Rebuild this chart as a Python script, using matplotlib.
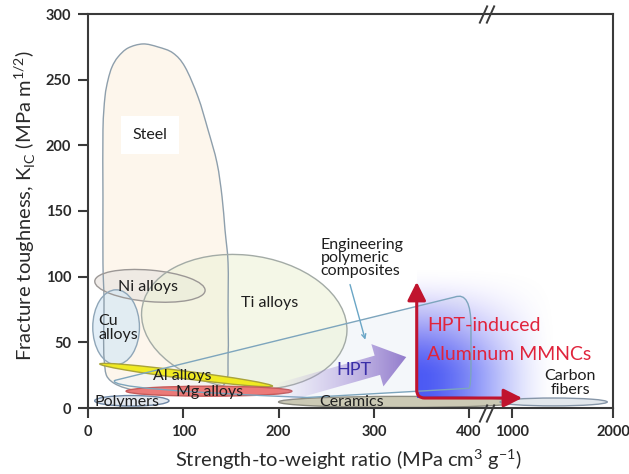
import numpy as np
import matplotlib
matplotlib.use("Agg")
import matplotlib.pyplot as plt
from matplotlib.patches import Ellipse, PathPatch, FancyArrowPatch, Polygon
from matplotlib.path import Path
from matplotlib.transforms import IdentityTransform

plt.rcParams['font.family'] = ['Lato', 'DejaVu Sans']

# ---- broken strength axis: linear 0-400, compressed gap, then 1000-2000 ----
AXIS_DATA = [-400, 0, 400, 1000, 2000, 3000]
AXIS_POS = [-400, 0, 400, 445, 551, 657]


def forward(x):
    return np.interp(x, AXIS_DATA, AXIS_POS)


def inverse(u):
    return np.interp(u, AXIS_POS, AXIS_DATA)


x_ticks = [0, 100, 200, 300, 400, 1000, 2000]
y_ticks = [0, 50, 100, 150, 200, 250, 300]
x_break = [600, 690]

# ---- elliptical material regions (strength range, toughness centre/height) ----
region_names = ["Ni alloys", "Cu alloys", "Ti alloys", "Ceramics", "Carbon fibers",
                "Polymers", "Al alloys", "Mg alloys"]
region_x_lo = [7, 5, 56, 200, 833, 7, 12, 40]
region_x_hi = [123, 54, 272, 1094, 1943, 85, 194, 214]
region_y_mid = [93, 61.5, 65.5, 4.6, 4.6, 5.5, 25.1, 12.8]
region_height = [24, 57, 102, 8.5, 6, 8, 5.8, 7.6]
region_tilt = [-3.5, 0, -4, 0, 0, 0, -5.3, 0]
region_face = ["#ebe6e2", "#d6e8f5", "#edf2d8", "#cbc9b4", "#e2e7ec",
               "#e4e9f0", "#f0ea22", "#ec7a78"]
region_edge = ["#9c9896", "#8fa6b8", "#a3aba6", "#8c8c80", "#8696a8",
               "#6f88a6", "#a9a33a", "#c45a5a"]
region_alpha = [0.75, 0.7, 0.6, 1, 1, 1, 1, 1]

# steel envelope outline (strength, toughness)
steel_x = [16.8, 15.7, 15.7, 15.7, 17.8, 21, 25.2, 31.5, 42, 57.7, 73.5, 89.2,
           101.8, 115.5, 126, 135.4, 140.7, 143.8, 147, 147, 147, 143, 110, 60, 25, 17]
steel_y = [82, 110.4, 160.7, 211.7, 236.8, 249.8, 259.7, 267.3, 274.1, 277.2, 274.9,
           270.3, 259.7, 236.8, 211.7, 186.6, 160.7, 135.5, 110.4, 74.6, 40, 18, 11,
           12, 20, 36.5]

# engineering polymeric composites envelope
comp_x = [28, 385, 426, 426, 426, 426, 400, 230, 18]
comp_y = [21, 84.5, 89, 62, 32, 17, 15, 8, 14]

# region labels
label_text = ["Steel", "Ni alloys", "Ti alloys", "Cu\nalloys", "Al alloys", "Mg alloys",
              "Polymers", "Ceramics", "Carbon\nfibers"]
label_x = [65, 63, 191, 10.5, 99, 128, 41, 277, 1575]
label_y = [208, 92, 80, 61, 24, 12, 4.5, 4.5, 19]
label_ha = ["center", "center", "center", "left", "center", "center", "center",
            "center", "center"]

# HPT route and MMNC corner arrow
hpt_tail = (175, 6)
hpt_tip = (334, 38.8)
mmnc_corner_x = 345
mmnc_top_y = 96
mmnc_right_x = 1100
mmnc_base_y = 7.6

fig = plt.figure(figsize=(6.29, 4.74), dpi=100)
ax = fig.add_axes([88 / 629, 1 - 408 / 474, 525 / 629, 394 / 474])
ax.set_xscale("function", functions=(forward, inverse))
ax.set_xlim(0, 2000)
ax.set_ylim(0, 300)
ax.set_autoscale_on(False)

# coordinates in the axis' scaled (position) space
trans_u = ax.transLimits + ax.transAxes


def closed_spline_path(xs, ys):
    pts = np.column_stack([xs, ys]).astype(float)
    n = len(pts)
    verts = [pts[0]]
    codes = [Path.MOVETO]
    for i in range(n):
        p0, p1, p2, p3 = pts[i - 1], pts[i], pts[(i + 1) % n], pts[(i + 2) % n]
        c1 = p1 + (p2 - p0) / 6.0
        c2 = p2 - (p3 - p1) / 6.0
        verts += [c1, c2, p2]
        codes += [Path.CURVE4] * 3
    return Path(np.array(verts), codes)


# steel envelope
steel_path = closed_spline_path(forward(np.array(steel_x)), steel_y)
ax.add_patch(PathPatch(steel_path, transform=trans_u, facecolor="#fdf5ea",
                       edgecolor="none", alpha=0.9, zorder=1.0))
ax.add_patch(PathPatch(steel_path, transform=trans_u, facecolor="none",
                       edgecolor="#8e9fac", lw=1.0, zorder=1.6))

# composites envelope (straight upper edge, rounded corners)
cu_ = forward(np.array(comp_x))
comp_codes = [Path.MOVETO, Path.LINETO, Path.CURVE3, Path.CURVE3, Path.LINETO,
              Path.CURVE3, Path.CURVE3, Path.LINETO, Path.CURVE3, Path.CURVE3]
comp_verts = list(zip(cu_, comp_y))
comp_path = Path(np.array(comp_verts + [comp_verts[0]]), comp_codes)
ax.add_patch(PathPatch(comp_path, transform=trans_u, facecolor="#eef3f7",
                       edgecolor="none", alpha=0.6, zorder=1.2))
ax.add_patch(PathPatch(comp_path, transform=trans_u, facecolor="none",
                       edgecolor="#7da5bd", lw=1.0, zorder=2.6))

# ellipse regions
for i, name in enumerate(region_names):
    u0, u1 = forward(region_x_lo[i]), forward(region_x_hi[i])
    centre = ((u0 + u1) / 2, region_y_mid[i])
    w = u1 - u0
    pale = region_alpha[i] < 1
    z_fill = 1.1 + 0.05 * i if pale else 2.0 + 0.05 * i
    ax.add_patch(Ellipse(centre, w, region_height[i], angle=region_tilt[i],
                         transform=trans_u, facecolor=region_face[i],
                         edgecolor="none", alpha=region_alpha[i], zorder=z_fill))
    ax.add_patch(Ellipse(centre, w, region_height[i], angle=region_tilt[i],
                         transform=trans_u, facecolor="none",
                         edgecolor=region_edge[i], lw=1.0,
                         zorder=1.6 if pale else z_fill + 0.01))

# blue glow of the MMNC region
u_lo, u_hi = forward(mmnc_corner_x), forward(mmnc_corner_x) + 150
y_lo, y_hi = mmnc_base_y, 110
gx = np.linspace(0, 1, 200)
gyv = np.linspace(y_lo, y_hi, 200)
gu, gy = np.meshgrid(gx, (gyv - 25) / (108 - 25))


def fall(t):
    t = np.clip(t, 0, 1)
    return 1 - t * t * (3 - 2 * t)


glow = np.zeros((200, 200, 4))
glow[..., 0] = 0.26 + 0.25 * np.clip(gy, 0, 1)
glow[..., 1] = 0.32 + 0.12 * np.clip(gy, 0, 1)
glow[..., 2] = 0.96
glow[..., 3] = 0.95 * fall(gu) * fall(gy)
ax.imshow(glow, extent=[u_lo, u_hi, y_lo, y_hi], origin="lower", aspect="auto",
          transform=trans_u, interpolation="bilinear", zorder=2.5)

# HPT gradient arrow (built in pixel space so the head keeps its shape)
tail_px = ax.transData.transform(hpt_tail)
tip_px = ax.transData.transform(hpt_tip)
d = (tip_px - tail_px) / np.linalg.norm(tip_px - tail_px)
nrm = np.array([-d[1], d[0]])
neck = tip_px - d * 30
arrow_pts = [tail_px + nrm * 10, neck + nrm * 10, neck + nrm * 22, tip_px,
             neck - nrm * 22, neck - nrm * 10, tail_px - nrm * 10]
arrow_shape = Polygon(arrow_pts, closed=True, transform=IdentityTransform())
grad = np.zeros((10, 200, 4))
ramp = np.linspace(0, 1, 200)
grad[..., 0] = 0.75 - 0.22 * ramp
grad[..., 1] = 0.68 - 0.25 * ramp
grad[..., 2] = 0.92 - 0.14 * ramp
grad[..., 3] = 0.92 * np.clip((ramp - 0.12) / 0.88, 0, 1)
img = ax.imshow(grad, extent=[forward(hpt_tail[0]), forward(hpt_tip[0]) + 2, 0, 50],
                origin="lower", aspect="auto", transform=trans_u,
                interpolation="bilinear", zorder=2.7)
img.set_clip_path(arrow_shape)

# red L-shaped arrow
ax.add_patch(FancyArrowPatch((mmnc_corner_x, mmnc_top_y), (mmnc_right_x, mmnc_base_y),
                             arrowstyle="<|-|>,head_length=0.7,head_width=0.35",
                             mutation_scale=16,
                             connectionstyle="angle,angleA=90,angleB=0,rad=8",
                             shrinkA=0, shrinkB=0, lw=2.2, color="#c0142e",
                             zorder=3))

# labels
for t, x, y, ha in zip(label_text, label_x, label_y, label_ha):
    kw = {}
    if t == "Steel":
        kw["bbox"] = dict(boxstyle="square,pad=0.75", fc="white", ec="none")
    ax.text(x, y, t, ha=ha, va="center", fontsize=11.5, color="#1e1e1e",
            linespacing=0.95, zorder=4, **kw)

ax.text(244, 114, "Engineering\npolymeric\ncomposites", ha="left", va="center",
        fontsize=11.5, color="#1e1e1e", linespacing=0.92, zorder=4)
ax.annotate("", xy=(291, 52), xytext=(275, 94),
            arrowprops=dict(arrowstyle="->,head_length=0.3,head_width=0.15",
                            color="#6aa6c6", lw=1.0, shrinkA=0, shrinkB=0),
            zorder=4)
ax.text(279, 29, "HPT", ha="center", va="center", fontsize=13,
        color="#3a2fa8", zorder=4)
ax.text(356, 63, "HPT-induced", ha="left", va="center", fontsize=14,
        color="#e0243c", zorder=4)
ax.text(356, 41, "Aluminum MMNCs", ha="left", va="center", fontsize=14,
        color="#e0243c", zorder=4)

# axes styling
for s in ax.spines.values():
    s.set_linewidth(1.5)
    s.set_color("#3a3a3a")
    s.set_zorder(5)
ax.set_xticks(x_ticks)
ax.set_xticklabels([str(v) for v in x_ticks])
ax.set_yticks(y_ticks)
ax.set_yticklabels([str(v) for v in y_ticks])
ax.minorticks_off()
ax.tick_params(direction="out", length=7, width=1.5, color="#3a3a3a",
               labelsize=10.5, labelcolor="#2a2a2a", pad=5)
for lab in ax.get_xticklabels() + ax.get_yticklabels():
    lab.set_fontweight("bold")

# axis-break marks
slash = [(-0.45, -1), (0.45, 1)]
for xb in x_break:
    ax.plot([xb], [300], marker=slash, markersize=13, mfc="none", mec="#3a3a3a",
            mew=1.4, clip_on=False, zorder=6)
    ax.plot([xb], [-4], marker=slash, markersize=13, mfc="none", mec="#3a3a3a",
            mew=1.4, clip_on=False, zorder=6)

fig.text(348 / 629, 1 - 460 / 474,
         "Strength-to-weight ratio (MPa cm$^\\mathregular{3}$ g$^\\mathregular{-1}$)",
         ha="center", va="center", fontsize=14.5, color="#2a2a2a")
fig.text(25 / 629, 1 - 206 / 474,
         "Fracture toughness, K$_\\mathregular{IC}$ (MPa m$^\\mathregular{1/2}$)",
         ha="center", va="center", rotation=90, fontsize=14.5, color="#2a2a2a")

fig.savefig("out.png", dpi=100)
